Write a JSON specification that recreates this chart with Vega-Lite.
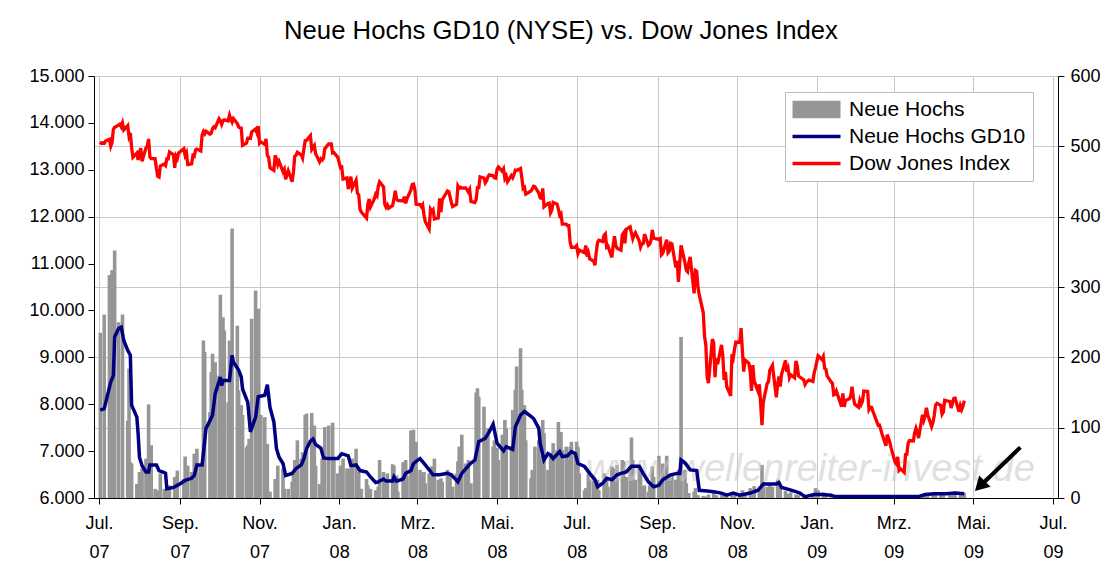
{
"$schema": "https://vega.github.io/schema/vega-lite/v6.json",
"width": 964, "height": 422,
"autosize": {"type": "none"},
"padding": {"left": 94, "top": 76, "right": 55, "bottom": 83},
"background": "white",
"title": {"text": "Neue Hochs GD10 (NYSE) vs. Dow Jones Index", "fontSize": 25.7, "font": "Liberation Sans", "fontWeight": "normal", "color": "black", "anchor": "middle", "offset": 22, "dx": -15},
"config": {"view": {"stroke": "#808080", "strokeWidth": 1}, "font": "Liberation Sans",
 "axis": {"labelFont": "Liberation Sans", "labelFontSize": 18, "labelColor": "black", "domainColor": "black", "tickColor": "black", "gridColor": "#c8c8c8", "title": null}},
"datasets": {
"hochs": [
{"d":"2007-07-02","h":235},{"d":"2007-07-05","h":261},{"d":"2007-07-09","h":317},{"d":"2007-07-11","h":324},{"d":"2007-07-13","h":352},{"d":"2007-07-16","h":250},{"d":"2007-07-19","h":261},{"d":"2007-07-23","h":110},{"d":"2007-07-24","h":184},{"d":"2007-07-25","h":51},{"d":"2007-07-26","h":49},{"d":"2007-07-30","h":20},{"d":"2007-08-01","h":37},{"d":"2007-08-03","h":42},{"d":"2007-08-06","h":56},{"d":"2007-08-08","h":133},{"d":"2007-08-10","h":75},{"d":"2007-08-13","h":13},{"d":"2007-08-15","h":11},{"d":"2007-08-17","h":35},{"d":"2007-08-20","h":13},{"d":"2007-08-22","h":10},{"d":"2007-08-24","h":18},{"d":"2007-08-28","h":30},{"d":"2007-08-30","h":39},{"d":"2007-09-04","h":27},{"d":"2007-09-05","h":59},{"d":"2007-09-07","h":46},{"d":"2007-09-10","h":37},{"d":"2007-09-12","h":63},{"d":"2007-09-14","h":70},{"d":"2007-09-17","h":46},{"d":"2007-09-19","h":224},{"d":"2007-09-20","h":208},{"d":"2007-09-24","h":122},{"d":"2007-09-25","h":179},{"d":"2007-09-26","h":205},{"d":"2007-09-28","h":193},{"d":"2007-10-01","h":174},{"d":"2007-10-02","h":289},{"d":"2007-10-04","h":257},{"d":"2007-10-05","h":238},{"d":"2007-10-08","h":136},{"d":"2007-10-09","h":224},{"d":"2007-10-11","h":383},{"d":"2007-10-15","h":245},{"d":"2007-10-16","h":153},{"d":"2007-10-18","h":132},{"d":"2007-10-19","h":118},{"d":"2007-10-22","h":72},{"d":"2007-10-23","h":75},{"d":"2007-10-24","h":84},{"d":"2007-10-26","h":255},{"d":"2007-10-29","h":295},{"d":"2007-10-31","h":269},
{"d":"2007-11-02","h":118},{"d":"2007-11-05","h":115},{"d":"2007-11-07","h":77},{"d":"2007-11-09","h":9},{"d":"2007-11-13","h":27},{"d":"2007-11-15","h":46},{"d":"2007-11-19","h":42},{"d":"2007-11-20","h":13},{"d":"2007-11-23","h":13},{"d":"2007-11-26","h":23},{"d":"2007-11-27","h":37},{"d":"2007-11-28","h":54},{"d":"2007-11-30","h":82},{"d":"2007-12-03","h":56},{"d":"2007-12-04","h":65},{"d":"2007-12-06","h":118},{"d":"2007-12-07","h":120},{"d":"2007-12-11","h":121},{"d":"2007-12-13","h":103},{"d":"2007-12-14","h":46},{"d":"2007-12-17","h":20},{"d":"2007-12-19","h":56},{"d":"2007-12-21","h":101},{"d":"2007-12-24","h":103},{"d":"2007-12-27","h":107},{"d":"2007-12-28","h":56},{"d":"2007-12-31","h":35},
{"d":"2008-01-02","h":46},{"d":"2008-01-04","h":56},{"d":"2008-01-07","h":42},{"d":"2008-01-09","h":42},{"d":"2008-01-11","h":56},{"d":"2008-01-14","h":70},{"d":"2008-01-16","h":37},{"d":"2008-01-18","h":13},{"d":"2008-01-22","h":27},{"d":"2008-01-23","h":18},{"d":"2008-01-25","h":13},{"d":"2008-01-29","h":11},{"d":"2008-01-31","h":16},{"d":"2008-02-01","h":54},{"d":"2008-02-04","h":37},{"d":"2008-02-06","h":27},{"d":"2008-02-07","h":35},{"d":"2008-02-11","h":48},{"d":"2008-02-12","h":46},{"d":"2008-02-14","h":32},{"d":"2008-02-15","h":9},{"d":"2008-02-19","h":51},{"d":"2008-02-21","h":54},{"d":"2008-02-22","h":32},{"d":"2008-02-25","h":96},{"d":"2008-02-27","h":97},{"d":"2008-02-29","h":80},
{"d":"2008-03-03","h":40},{"d":"2008-03-04","h":35},{"d":"2008-03-06","h":37},{"d":"2008-03-07","h":21},{"d":"2008-03-10","h":35},{"d":"2008-03-12","h":45},{"d":"2008-03-14","h":56},{"d":"2008-03-17","h":26},{"d":"2008-03-19","h":28},{"d":"2008-03-20","h":23},{"d":"2008-03-24","h":40},{"d":"2008-03-26","h":33},{"d":"2008-03-28","h":16},{"d":"2008-03-31","h":35},{"d":"2008-04-01","h":52},{"d":"2008-04-02","h":73},{"d":"2008-04-04","h":90},{"d":"2008-04-07","h":49},{"d":"2008-04-09","h":54},{"d":"2008-04-11","h":21},{"d":"2008-04-14","h":54},{"d":"2008-04-15","h":150},{"d":"2008-04-16","h":156},{"d":"2008-04-17","h":144},{"d":"2008-04-21","h":130},{"d":"2008-04-22","h":87},{"d":"2008-04-24","h":99},{"d":"2008-04-28","h":73},{"d":"2008-04-29","h":82},
{"d":"2008-05-01","h":71},{"d":"2008-05-02","h":54},{"d":"2008-05-05","h":90},{"d":"2008-05-07","h":111},{"d":"2008-05-08","h":99},{"d":"2008-05-12","h":73},{"d":"2008-05-13","h":125},{"d":"2008-05-15","h":154},{"d":"2008-05-16","h":187},{"d":"2008-05-19","h":213},{"d":"2008-05-20","h":154},{"d":"2008-05-22","h":132},{"d":"2008-05-23","h":82},{"d":"2008-05-27","h":28},{"d":"2008-05-28","h":40},{"d":"2008-05-30","h":73},{"d":"2008-06-02","h":82},{"d":"2008-06-03","h":59},{"d":"2008-06-05","h":111},{"d":"2008-06-06","h":92},{"d":"2008-06-09","h":40},{"d":"2008-06-11","h":64},{"d":"2008-06-13","h":78},{"d":"2008-06-16","h":68},{"d":"2008-06-17","h":108},{"d":"2008-06-19","h":94},{"d":"2008-06-20","h":68},{"d":"2008-06-23","h":73},{"d":"2008-06-25","h":54},{"d":"2008-06-26","h":73},{"d":"2008-06-27","h":80},{"d":"2008-06-30","h":64},
{"d":"2008-07-01","h":80},{"d":"2008-07-02","h":73},{"d":"2008-07-03","h":35},{"d":"2008-07-07","h":11},{"d":"2008-07-08","h":14},{"d":"2008-07-10","h":35},{"d":"2008-07-11","h":26},{"d":"2008-07-14","h":30},{"d":"2008-07-15","h":18},{"d":"2008-07-17","h":26},{"d":"2008-07-18","h":11},{"d":"2008-07-22","h":35},{"d":"2008-07-24","h":26},{"d":"2008-07-25","h":16},{"d":"2008-07-28","h":45},{"d":"2008-07-29","h":42},{"d":"2008-07-31","h":23},{"d":"2008-08-01","h":47},{"d":"2008-08-05","h":54},{"d":"2008-08-06","h":52},{"d":"2008-08-08","h":30},{"d":"2008-08-11","h":45},{"d":"2008-08-12","h":86},{"d":"2008-08-13","h":54},{"d":"2008-08-15","h":26},{"d":"2008-08-18","h":45},{"d":"2008-08-19","h":35},{"d":"2008-08-20","h":16},{"d":"2008-08-22","h":18},{"d":"2008-08-25","h":9},{"d":"2008-08-26","h":18},{"d":"2008-08-28","h":45},{"d":"2008-08-29","h":30},{"d":"2008-09-02","h":60},{"d":"2008-09-03","h":30},{"d":"2008-09-05","h":49},{"d":"2008-09-08","h":60},{"d":"2008-09-10","h":30},{"d":"2008-09-12","h":35},{"d":"2008-09-15","h":26},{"d":"2008-09-17","h":40},{"d":"2008-09-19","h":229},{"d":"2008-09-22","h":40},{"d":"2008-09-23","h":21},{"d":"2008-09-25","h":7},{"d":"2008-09-29","h":9},{"d":"2008-09-30","h":14},
{"d":"2008-10-02","h":4},{"d":"2008-10-06","h":3},{"d":"2008-10-08","h":2},{"d":"2008-10-10","h":5},{"d":"2008-10-14","h":8},{"d":"2008-10-16","h":4},{"d":"2008-10-20","h":6},{"d":"2008-10-22","h":3},{"d":"2008-10-24","h":2},{"d":"2008-10-28","h":5},{"d":"2008-10-30","h":8},{"d":"2008-11-03","h":6},{"d":"2008-11-05","h":11},{"d":"2008-11-07","h":5},{"d":"2008-11-11","h":14},{"d":"2008-11-13","h":8},{"d":"2008-11-14","h":17},{"d":"2008-11-18","h":16},{"d":"2008-11-20","h":47},{"d":"2008-11-21","h":23},{"d":"2008-11-24","h":16},{"d":"2008-11-26","h":21},{"d":"2008-11-28","h":16},{"d":"2008-12-02","h":26},{"d":"2008-12-04","h":16},{"d":"2008-12-08","h":10},{"d":"2008-12-10","h":6},{"d":"2008-12-12","h":8},{"d":"2008-12-16","h":5},{"d":"2008-12-18","h":4},{"d":"2008-12-22","h":2},{"d":"2008-12-24","h":3},{"d":"2008-12-29","h":5},{"d":"2008-12-31","h":14},
{"d":"2009-01-02","h":11},{"d":"2009-01-06","h":8},{"d":"2009-01-08","h":4},{"d":"2009-01-12","h":3},{"d":"2009-01-14","h":2},{"d":"2009-01-16","h":2},{"d":"2009-01-21","h":3},{"d":"2009-01-23","h":2},{"d":"2009-01-27","h":3},{"d":"2009-01-29","h":2},{"d":"2009-02-02","h":2},{"d":"2009-02-04","h":3},{"d":"2009-02-06","h":4},{"d":"2009-02-10","h":2},{"d":"2009-02-12","h":2},{"d":"2009-02-17","h":1},{"d":"2009-02-19","h":2},{"d":"2009-02-23","h":1},{"d":"2009-02-25","h":2},{"d":"2009-02-27","h":1},{"d":"2009-03-03","h":1},{"d":"2009-03-05","h":1},{"d":"2009-03-09","h":1},{"d":"2009-03-11","h":2},{"d":"2009-03-13","h":3},{"d":"2009-03-17","h":2},{"d":"2009-03-19","h":3},{"d":"2009-03-23","h":4},{"d":"2009-03-25","h":5},{"d":"2009-03-27","h":6},{"d":"2009-03-31","h":5},{"d":"2009-04-02","h":8},{"d":"2009-04-06","h":6},{"d":"2009-04-08","h":5},{"d":"2009-04-13","h":7},{"d":"2009-04-15","h":6},{"d":"2009-04-17","h":9},{"d":"2009-04-21","h":5},{"d":"2009-04-23","h":6},{"d":"2009-04-24","h":7}
],
"gd10": [
{"d":"2007-07-02","h":125},{"d":"2007-07-05","h":127},{"d":"2007-07-10","h":165},{"d":"2007-07-12","h":174},{"d":"2007-07-13","h":229},{"d":"2007-07-16","h":241},{"d":"2007-07-18","h":243},{"d":"2007-07-20","h":224},{"d":"2007-07-23","h":210},{"d":"2007-07-25","h":203},{"d":"2007-07-26","h":132},{"d":"2007-07-30","h":115},{"d":"2007-07-31","h":91},{"d":"2007-08-01","h":58},{"d":"2007-08-03","h":46},{"d":"2007-08-06","h":37},{"d":"2007-08-08","h":37},{"d":"2007-08-09","h":47},{"d":"2007-08-14","h":47},{"d":"2007-08-16","h":39},{"d":"2007-08-20","h":36},{"d":"2007-08-21","h":35},{"d":"2007-08-22","h":13},{"d":"2007-08-27","h":15},{"d":"2007-08-31","h":19},{"d":"2007-09-05","h":25},{"d":"2007-09-10","h":28},{"d":"2007-09-12","h":32},{"d":"2007-09-14","h":47},{"d":"2007-09-18","h":47},{"d":"2007-09-21","h":99},{"d":"2007-09-24","h":110},{"d":"2007-09-26","h":118},{"d":"2007-09-28","h":148},{"d":"2007-10-02","h":172},{"d":"2007-10-03","h":160},{"d":"2007-10-04","h":167},{"d":"2007-10-09","h":167},{"d":"2007-10-11","h":203},{"d":"2007-10-12","h":193},{"d":"2007-10-16","h":182},{"d":"2007-10-18","h":172},{"d":"2007-10-19","h":155},{"d":"2007-10-23","h":136},{"d":"2007-10-25","h":94},{"d":"2007-10-29","h":115},{"d":"2007-10-31","h":144},
{"d":"2007-11-05","h":146},{"d":"2007-11-07","h":161},{"d":"2007-11-09","h":129},{"d":"2007-11-12","h":108},{"d":"2007-11-14","h":70},{"d":"2007-11-16","h":58},{"d":"2007-11-19","h":49},{"d":"2007-11-21","h":32},{"d":"2007-11-26","h":35},{"d":"2007-11-29","h":42},{"d":"2007-12-03","h":47},{"d":"2007-12-05","h":56},{"d":"2007-12-07","h":70},{"d":"2007-12-10","h":81},{"d":"2007-12-12","h":84},{"d":"2007-12-14","h":76},{"d":"2007-12-18","h":71},{"d":"2007-12-20","h":57},{"d":"2007-12-24","h":56},{"d":"2007-12-31","h":56},{"d":"2008-01-03","h":63},{"d":"2008-01-08","h":60},{"d":"2008-01-10","h":46},{"d":"2008-01-14","h":47},{"d":"2008-01-17","h":39},{"d":"2008-01-22","h":37},{"d":"2008-01-25","h":30},{"d":"2008-01-29","h":22},{"d":"2008-01-31","h":23},{"d":"2008-02-04","h":27},{"d":"2008-02-06","h":24},{"d":"2008-02-11","h":24},{"d":"2008-02-12","h":30},{"d":"2008-02-14","h":24},{"d":"2008-02-19","h":27},{"d":"2008-02-21","h":35},{"d":"2008-02-25","h":39},{"d":"2008-02-27","h":49},{"d":"2008-02-29","h":52},
{"d":"2008-03-03","h":56},{"d":"2008-03-07","h":47},{"d":"2008-03-13","h":33},{"d":"2008-03-18","h":33},{"d":"2008-03-24","h":35},{"d":"2008-03-27","h":33},{"d":"2008-04-01","h":23},{"d":"2008-04-04","h":35},{"d":"2008-04-10","h":48},{"d":"2008-04-14","h":54},{"d":"2008-04-17","h":80},{"d":"2008-04-22","h":85},{"d":"2008-04-25","h":94},{"d":"2008-04-28","h":105},{"d":"2008-05-01","h":78},{"d":"2008-05-06","h":67},{"d":"2008-05-08","h":73},{"d":"2008-05-13","h":69},{"d":"2008-05-15","h":101},{"d":"2008-05-19","h":118},{"d":"2008-05-22","h":123},{"d":"2008-05-27","h":116},{"d":"2008-05-29","h":113},{"d":"2008-06-02","h":99},{"d":"2008-06-03","h":78},{"d":"2008-06-06","h":54},{"d":"2008-06-09","h":63},{"d":"2008-06-11","h":61},{"d":"2008-06-13","h":56},{"d":"2008-06-18","h":66},{"d":"2008-06-20","h":59},{"d":"2008-06-24","h":60},{"d":"2008-06-27","h":66},{"d":"2008-06-30","h":63},
{"d":"2008-07-02","h":49},{"d":"2008-07-07","h":45},{"d":"2008-07-09","h":40},{"d":"2008-07-11","h":35},{"d":"2008-07-15","h":26},{"d":"2008-07-17","h":16},{"d":"2008-07-21","h":21},{"d":"2008-07-24","h":28},{"d":"2008-07-28","h":26},{"d":"2008-08-01","h":33},{"d":"2008-08-04","h":35},{"d":"2008-08-08","h":37},{"d":"2008-08-12","h":45},{"d":"2008-08-15","h":45},{"d":"2008-08-18","h":45},{"d":"2008-08-21","h":35},{"d":"2008-08-25","h":23},{"d":"2008-08-29","h":16},{"d":"2008-09-02","h":18},{"d":"2008-09-05","h":26},{"d":"2008-09-11","h":33},{"d":"2008-09-16","h":35},{"d":"2008-09-18","h":35},{"d":"2008-09-19","h":54},{"d":"2008-09-22","h":50},{"d":"2008-09-26","h":40},{"d":"2008-10-01","h":39},{"d":"2008-10-03","h":11},{"d":"2008-10-09","h":10},{"d":"2008-10-14","h":9},{"d":"2008-10-20","h":7},{"d":"2008-10-24","h":4},{"d":"2008-10-29","h":7},
{"d":"2008-11-03","h":4},{"d":"2008-11-11","h":7},{"d":"2008-11-17","h":11},{"d":"2008-11-21","h":20},{"d":"2008-11-26","h":20},{"d":"2008-12-01","h":20},{"d":"2008-12-03","h":22},{"d":"2008-12-05","h":15},{"d":"2008-12-11","h":12},{"d":"2008-12-16","h":9},{"d":"2008-12-19","h":7},{"d":"2008-12-23","h":2},{"d":"2008-12-30","h":5},{"d":"2009-01-05","h":5},{"d":"2009-01-12","h":4},{"d":"2009-01-15","h":2},{"d":"2009-02-10","h":2},{"d":"2009-03-10","h":2},{"d":"2009-03-20","h":2},{"d":"2009-03-25","h":5},{"d":"2009-04-01","h":6},{"d":"2009-04-10","h":6},{"d":"2009-04-17","h":7},{"d":"2009-04-24","h":6}
],
"dow": [
{"d":"2007-07-02","v":13535},{"d":"2007-07-03","v":13577},{"d":"2007-07-05","v":13565},{"d":"2007-07-06","v":13611},{"d":"2007-07-09","v":13650},{"d":"2007-07-10","v":13502},{"d":"2007-07-11","v":13577},{"d":"2007-07-12","v":13861},{"d":"2007-07-13","v":13907},{"d":"2007-07-16","v":13951},{"d":"2007-07-17","v":13971},{"d":"2007-07-18","v":13918},{"d":"2007-07-19","v":14000},{"d":"2007-07-20","v":13851},{"d":"2007-07-23","v":13943},{"d":"2007-07-24","v":13716},{"d":"2007-07-25","v":13785},{"d":"2007-07-26","v":13473},{"d":"2007-07-27","v":13265},{"d":"2007-07-30","v":13358},{"d":"2007-07-31","v":13212},
{"d":"2007-08-01","v":13362},{"d":"2007-08-02","v":13463},{"d":"2007-08-03","v":13182},{"d":"2007-08-06","v":13469},{"d":"2007-08-07","v":13504},{"d":"2007-08-08","v":13658},{"d":"2007-08-09","v":13271},{"d":"2007-08-10","v":13240},{"d":"2007-08-13","v":13237},{"d":"2007-08-14","v":13029},{"d":"2007-08-15","v":12862},{"d":"2007-08-16","v":12845},{"d":"2007-08-17","v":13079},{"d":"2007-08-20","v":13121},{"d":"2007-08-21","v":13091},{"d":"2007-08-22","v":13237},{"d":"2007-08-23","v":13236},{"d":"2007-08-24","v":13379},{"d":"2007-08-27","v":13322},{"d":"2007-08-28","v":13041},{"d":"2007-08-29","v":13289},{"d":"2007-08-30","v":13238},{"d":"2007-08-31","v":13358},
{"d":"2007-09-04","v":13448},{"d":"2007-09-05","v":13306},{"d":"2007-09-06","v":13363},{"d":"2007-09-07","v":13113},{"d":"2007-09-10","v":13128},{"d":"2007-09-11","v":13308},{"d":"2007-09-12","v":13292},{"d":"2007-09-13","v":13425},{"d":"2007-09-14","v":13442},{"d":"2007-09-17","v":13403},{"d":"2007-09-18","v":13739},{"d":"2007-09-19","v":13815},{"d":"2007-09-20","v":13766},{"d":"2007-09-21","v":13821},{"d":"2007-09-24","v":13759},{"d":"2007-09-25","v":13779},{"d":"2007-09-26","v":13878},{"d":"2007-09-27","v":13913},{"d":"2007-09-28","v":13896},
{"d":"2007-10-01","v":14088},{"d":"2007-10-02","v":14047},{"d":"2007-10-03","v":13968},{"d":"2007-10-04","v":14044},{"d":"2007-10-05","v":14066},{"d":"2007-10-08","v":14043},{"d":"2007-10-09","v":14165},{"d":"2007-10-10","v":14078},{"d":"2007-10-11","v":14015},{"d":"2007-10-12","v":14093},{"d":"2007-10-15","v":13985},{"d":"2007-10-16","v":13913},{"d":"2007-10-17","v":13892},{"d":"2007-10-18","v":13889},{"d":"2007-10-19","v":13522},{"d":"2007-10-22","v":13566},{"d":"2007-10-23","v":13676},{"d":"2007-10-24","v":13675},{"d":"2007-10-25","v":13671},{"d":"2007-10-26","v":13807},{"d":"2007-10-29","v":13870},{"d":"2007-10-30","v":13792},{"d":"2007-10-31","v":13930},
{"d":"2007-11-01","v":13567},{"d":"2007-11-02","v":13596},{"d":"2007-11-05","v":13543},{"d":"2007-11-06","v":13661},{"d":"2007-11-07","v":13300},{"d":"2007-11-08","v":13267},{"d":"2007-11-09","v":13043},{"d":"2007-11-12","v":12988},{"d":"2007-11-13","v":13307},{"d":"2007-11-14","v":13231},{"d":"2007-11-15","v":13110},{"d":"2007-11-16","v":13177},{"d":"2007-11-19","v":12958},{"d":"2007-11-20","v":13010},{"d":"2007-11-21","v":12799},{"d":"2007-11-23","v":12981},{"d":"2007-11-26","v":12743},{"d":"2007-11-27","v":12958},{"d":"2007-11-28","v":13289},{"d":"2007-11-29","v":13312},{"d":"2007-11-30","v":13372},
{"d":"2007-12-03","v":13315},{"d":"2007-12-04","v":13249},{"d":"2007-12-05","v":13445},{"d":"2007-12-06","v":13620},{"d":"2007-12-07","v":13626},{"d":"2007-12-10","v":13727},{"d":"2007-12-11","v":13433},{"d":"2007-12-12","v":13474},{"d":"2007-12-13","v":13518},{"d":"2007-12-14","v":13340},{"d":"2007-12-17","v":13168},{"d":"2007-12-18","v":13233},{"d":"2007-12-19","v":13207},{"d":"2007-12-20","v":13246},{"d":"2007-12-21","v":13451},{"d":"2007-12-24","v":13550},{"d":"2007-12-26","v":13552},{"d":"2007-12-27","v":13360},{"d":"2007-12-28","v":13366},{"d":"2007-12-31","v":13265},
{"d":"2008-01-02","v":13044},{"d":"2008-01-03","v":13057},{"d":"2008-01-04","v":12800},{"d":"2008-01-07","v":12827},{"d":"2008-01-08","v":12589},{"d":"2008-01-09","v":12736},{"d":"2008-01-10","v":12853},{"d":"2008-01-11","v":12606},{"d":"2008-01-14","v":12778},{"d":"2008-01-15","v":12501},{"d":"2008-01-16","v":12466},{"d":"2008-01-17","v":12159},{"d":"2008-01-18","v":12099},{"d":"2008-01-22","v":11971},{"d":"2008-01-23","v":12270},{"d":"2008-01-24","v":12379},{"d":"2008-01-25","v":12207},{"d":"2008-01-28","v":12384},{"d":"2008-01-29","v":12480},{"d":"2008-01-30","v":12443},{"d":"2008-01-31","v":12650},
{"d":"2008-02-01","v":12743},{"d":"2008-02-04","v":12635},{"d":"2008-02-05","v":12265},{"d":"2008-02-06","v":12200},{"d":"2008-02-07","v":12248},{"d":"2008-02-08","v":12182},{"d":"2008-02-11","v":12240},{"d":"2008-02-12","v":12374},{"d":"2008-02-13","v":12552},{"d":"2008-02-14","v":12376},{"d":"2008-02-15","v":12348},{"d":"2008-02-19","v":12337},{"d":"2008-02-20","v":12427},{"d":"2008-02-21","v":12284},{"d":"2008-02-22","v":12381},{"d":"2008-02-25","v":12570},{"d":"2008-02-26","v":12684},{"d":"2008-02-27","v":12694},{"d":"2008-02-28","v":12582},{"d":"2008-02-29","v":12266},
{"d":"2008-03-03","v":12258},{"d":"2008-03-04","v":12213},{"d":"2008-03-05","v":12254},{"d":"2008-03-06","v":12040},{"d":"2008-03-07","v":11894},{"d":"2008-03-10","v":11740},{"d":"2008-03-11","v":12156},{"d":"2008-03-12","v":12111},{"d":"2008-03-13","v":12146},{"d":"2008-03-14","v":11951},{"d":"2008-03-17","v":11972},{"d":"2008-03-18","v":12392},{"d":"2008-03-19","v":12099},{"d":"2008-03-20","v":12361},{"d":"2008-03-24","v":12549},{"d":"2008-03-25","v":12533},{"d":"2008-03-26","v":12422},{"d":"2008-03-27","v":12302},{"d":"2008-03-28","v":12216},{"d":"2008-03-31","v":12263},
{"d":"2008-04-01","v":12654},{"d":"2008-04-02","v":12605},{"d":"2008-04-03","v":12626},{"d":"2008-04-04","v":12610},{"d":"2008-04-07","v":12612},{"d":"2008-04-08","v":12577},{"d":"2008-04-09","v":12527},{"d":"2008-04-10","v":12582},{"d":"2008-04-11","v":12326},{"d":"2008-04-14","v":12302},{"d":"2008-04-15","v":12363},{"d":"2008-04-16","v":12620},{"d":"2008-04-17","v":12620},{"d":"2008-04-18","v":12849},{"d":"2008-04-21","v":12825},{"d":"2008-04-22","v":12721},{"d":"2008-04-23","v":12763},{"d":"2008-04-24","v":12849},{"d":"2008-04-25","v":12892},{"d":"2008-04-28","v":12871},{"d":"2008-04-29","v":12832},{"d":"2008-04-30","v":12820},
{"d":"2008-05-01","v":13010},{"d":"2008-05-02","v":13058},{"d":"2008-05-05","v":12969},{"d":"2008-05-06","v":13020},{"d":"2008-05-07","v":12814},{"d":"2008-05-08","v":12866},{"d":"2008-05-09","v":12745},{"d":"2008-05-12","v":12876},{"d":"2008-05-13","v":12832},{"d":"2008-05-14","v":12898},{"d":"2008-05-15","v":12992},{"d":"2008-05-16","v":12986},{"d":"2008-05-19","v":13028},{"d":"2008-05-20","v":12828},{"d":"2008-05-21","v":12601},{"d":"2008-05-22","v":12625},{"d":"2008-05-23","v":12479},{"d":"2008-05-27","v":12548},{"d":"2008-05-28","v":12594},{"d":"2008-05-29","v":12647},{"d":"2008-05-30","v":12638},
{"d":"2008-06-02","v":12503},{"d":"2008-06-03","v":12402},{"d":"2008-06-04","v":12391},{"d":"2008-06-05","v":12604},{"d":"2008-06-06","v":12209},{"d":"2008-06-09","v":12280},{"d":"2008-06-10","v":12289},{"d":"2008-06-11","v":12083},{"d":"2008-06-12","v":12141},{"d":"2008-06-13","v":12307},{"d":"2008-06-16","v":12269},{"d":"2008-06-17","v":12160},{"d":"2008-06-18","v":12029},{"d":"2008-06-19","v":12063},{"d":"2008-06-20","v":11843},{"d":"2008-06-23","v":11842},{"d":"2008-06-24","v":11807},{"d":"2008-06-25","v":11811},{"d":"2008-06-26","v":11453},{"d":"2008-06-27","v":11346},{"d":"2008-06-30","v":11350},
{"d":"2008-07-01","v":11382},{"d":"2008-07-02","v":11215},{"d":"2008-07-03","v":11288},{"d":"2008-07-07","v":11231},{"d":"2008-07-08","v":11384},{"d":"2008-07-09","v":11147},{"d":"2008-07-10","v":11229},{"d":"2008-07-11","v":11100},{"d":"2008-07-14","v":11055},{"d":"2008-07-15","v":10962},{"d":"2008-07-16","v":11239},{"d":"2008-07-17","v":11446},{"d":"2008-07-18","v":11496},{"d":"2008-07-21","v":11467},{"d":"2008-07-22","v":11602},{"d":"2008-07-23","v":11632},{"d":"2008-07-24","v":11349},{"d":"2008-07-25","v":11370},{"d":"2008-07-28","v":11131},{"d":"2008-07-29","v":11397},{"d":"2008-07-30","v":11583},{"d":"2008-07-31","v":11378},
{"d":"2008-08-01","v":11326},{"d":"2008-08-04","v":11284},{"d":"2008-08-05","v":11615},{"d":"2008-08-06","v":11656},{"d":"2008-08-07","v":11431},{"d":"2008-08-08","v":11734},{"d":"2008-08-11","v":11782},{"d":"2008-08-12","v":11642},{"d":"2008-08-13","v":11532},{"d":"2008-08-14","v":11615},{"d":"2008-08-15","v":11659},{"d":"2008-08-18","v":11479},{"d":"2008-08-19","v":11348},{"d":"2008-08-20","v":11417},{"d":"2008-08-21","v":11430},{"d":"2008-08-22","v":11628},{"d":"2008-08-25","v":11387},{"d":"2008-08-26","v":11413},{"d":"2008-08-27","v":11503},{"d":"2008-08-28","v":11715},{"d":"2008-08-29","v":11543},
{"d":"2008-09-02","v":11516},{"d":"2008-09-03","v":11533},{"d":"2008-09-04","v":11188},{"d":"2008-09-05","v":11220},{"d":"2008-09-08","v":11511},{"d":"2008-09-09","v":11231},{"d":"2008-09-10","v":11268},{"d":"2008-09-11","v":11434},{"d":"2008-09-12","v":11421},{"d":"2008-09-15","v":10918},{"d":"2008-09-16","v":11060},{"d":"2008-09-17","v":10609},{"d":"2008-09-18","v":11020},{"d":"2008-09-19","v":11388},{"d":"2008-09-22","v":11016},{"d":"2008-09-23","v":10855},{"d":"2008-09-24","v":10825},{"d":"2008-09-25","v":11023},{"d":"2008-09-26","v":11143},{"d":"2008-09-29","v":10365},{"d":"2008-09-30","v":10851},
{"d":"2008-10-01","v":10831},{"d":"2008-10-02","v":10483},{"d":"2008-10-03","v":10325},{"d":"2008-10-06","v":9955},{"d":"2008-10-07","v":9447},{"d":"2008-10-08","v":9258},{"d":"2008-10-09","v":8579},{"d":"2008-10-10","v":8451},{"d":"2008-10-13","v":9387},{"d":"2008-10-14","v":9311},{"d":"2008-10-15","v":8578},{"d":"2008-10-16","v":8979},{"d":"2008-10-17","v":8852},{"d":"2008-10-20","v":9265},{"d":"2008-10-21","v":9034},{"d":"2008-10-22","v":8519},{"d":"2008-10-23","v":8691},{"d":"2008-10-24","v":8378},{"d":"2008-10-27","v":8176},{"d":"2008-10-28","v":9065},{"d":"2008-10-29","v":8991},{"d":"2008-10-30","v":9180},{"d":"2008-10-31","v":9325},
{"d":"2008-11-03","v":9319},{"d":"2008-11-04","v":9625},{"d":"2008-11-05","v":9139},{"d":"2008-11-06","v":8696},{"d":"2008-11-07","v":8944},{"d":"2008-11-10","v":8871},{"d":"2008-11-11","v":8694},{"d":"2008-11-12","v":8283},{"d":"2008-11-13","v":8835},{"d":"2008-11-14","v":8497},{"d":"2008-11-17","v":8273},{"d":"2008-11-18","v":8425},{"d":"2008-11-19","v":8000},{"d":"2008-11-20","v":7552},{"d":"2008-11-21","v":8046},{"d":"2008-11-24","v":8443},{"d":"2008-11-25","v":8480},{"d":"2008-11-26","v":8727},{"d":"2008-11-28","v":8829},
{"d":"2008-12-01","v":8149},{"d":"2008-12-02","v":8419},{"d":"2008-12-03","v":8592},{"d":"2008-12-04","v":8377},{"d":"2008-12-05","v":8635},{"d":"2008-12-08","v":8934},{"d":"2008-12-09","v":8692},{"d":"2008-12-10","v":8761},{"d":"2008-12-11","v":8565},{"d":"2008-12-12","v":8629},{"d":"2008-12-15","v":8565},{"d":"2008-12-16","v":8924},{"d":"2008-12-17","v":8824},{"d":"2008-12-18","v":8604},{"d":"2008-12-19","v":8579},{"d":"2008-12-22","v":8520},{"d":"2008-12-23","v":8419},{"d":"2008-12-24","v":8468},{"d":"2008-12-26","v":8515},{"d":"2008-12-29","v":8483},{"d":"2008-12-30","v":8668},{"d":"2008-12-31","v":8776},
{"d":"2009-01-02","v":9034},{"d":"2009-01-05","v":8952},{"d":"2009-01-06","v":9015},{"d":"2009-01-07","v":8769},{"d":"2009-01-08","v":8742},{"d":"2009-01-09","v":8599},{"d":"2009-01-12","v":8474},{"d":"2009-01-13","v":8448},{"d":"2009-01-14","v":8200},{"d":"2009-01-15","v":8212},{"d":"2009-01-16","v":8281},{"d":"2009-01-20","v":7949},{"d":"2009-01-21","v":8228},{"d":"2009-01-22","v":7945},{"d":"2009-01-23","v":8077},{"d":"2009-01-26","v":8116},{"d":"2009-01-27","v":8175},{"d":"2009-01-28","v":8375},{"d":"2009-01-29","v":8149},{"d":"2009-01-30","v":8001},
{"d":"2009-02-02","v":7936},{"d":"2009-02-03","v":8078},{"d":"2009-02-04","v":8000},{"d":"2009-02-05","v":8063},{"d":"2009-02-06","v":8280},{"d":"2009-02-09","v":8270},{"d":"2009-02-10","v":7889},{"d":"2009-02-11","v":7939},{"d":"2009-02-12","v":7933},{"d":"2009-02-13","v":7850},{"d":"2009-02-17","v":7553},{"d":"2009-02-18","v":7556},{"d":"2009-02-19","v":7466},{"d":"2009-02-20","v":7366},{"d":"2009-02-23","v":7115},{"d":"2009-02-24","v":7351},{"d":"2009-02-25","v":7271},{"d":"2009-02-26","v":7183},{"d":"2009-02-27","v":7063},
{"d":"2009-03-02","v":6763},{"d":"2009-03-03","v":6726},{"d":"2009-03-04","v":6876},{"d":"2009-03-05","v":6594},{"d":"2009-03-06","v":6627},{"d":"2009-03-09","v":6547},{"d":"2009-03-10","v":6926},{"d":"2009-03-11","v":6930},{"d":"2009-03-12","v":7170},{"d":"2009-03-13","v":7224},{"d":"2009-03-16","v":7217},{"d":"2009-03-17","v":7395},{"d":"2009-03-18","v":7486},{"d":"2009-03-19","v":7401},{"d":"2009-03-20","v":7278},{"d":"2009-03-23","v":7776},{"d":"2009-03-24","v":7660},{"d":"2009-03-25","v":7750},{"d":"2009-03-26","v":7924},{"d":"2009-03-27","v":7777},{"d":"2009-03-30","v":7522},{"d":"2009-03-31","v":7609},
{"d":"2009-04-01","v":7761},{"d":"2009-04-02","v":7978},{"d":"2009-04-03","v":8018},{"d":"2009-04-06","v":7975},{"d":"2009-04-07","v":7789},{"d":"2009-04-08","v":7837},{"d":"2009-04-09","v":8083},{"d":"2009-04-13","v":8058},{"d":"2009-04-14","v":7920},{"d":"2009-04-15","v":8029},{"d":"2009-04-16","v":8125},{"d":"2009-04-17","v":8131},{"d":"2009-04-20","v":7841},{"d":"2009-04-21","v":7969},{"d":"2009-04-22","v":7886},{"d":"2009-04-23","v":7957},{"d":"2009-04-24","v":8076}
],
"mark": [{"d":"2008-12-27","h":40,"t":"www.wellenreiter-invest.de"}],
"arrow": [{"d":"2009-06-06","h":72,"d2":"2009-05-09","h2":22}],
"tip": [{"d":"2009-05-06","h":17}]
},
"encoding": {
 "x": {"field": "d", "type": "temporal",
  "scale": {"type": "utc", "domain": [{"year":2007,"month":7,"date":1,"utc":true},{"year":2009,"month":7,"date":1,"utc":true}]},
  "axis": {"values": [{"year":2007,"month":7,"date":1,"utc":true},{"year":2007,"month":9,"date":1,"utc":true},{"year":2007,"month":11,"date":1,"utc":true},{"year":2008,"month":1,"date":1,"utc":true},{"year":2008,"month":3,"date":1,"utc":true},{"year":2008,"month":5,"date":1,"utc":true},{"year":2008,"month":7,"date":1,"utc":true},{"year":2008,"month":9,"date":1,"utc":true},{"year":2008,"month":11,"date":1,"utc":true},{"year":2009,"month":1,"date":1,"utc":true},{"year":2009,"month":3,"date":1,"utc":true},{"year":2009,"month":5,"date":1,"utc":true},{"year":2009,"month":7,"date":1,"utc":true}],
   "labelExpr": "[['Jan.','Feb.','Mrz.','Apr.','Mai.','Jun.','Jul.','Aug.','Sep.','Okt.','Nov.','Dez.'][utcmonth(datum.value)], utcFormat(datum.value, '%y')]",
   "grid": true, "tickSize": 6, "labelPadding": 10, "labelLineHeight": 29, "labelFlush": false, "labelOverlap": false, "labelBaseline": "top"}}
},
"layer": [
 {"layer": [
   {"data": {"name": "hochs"}, "mark": {"type": "bar", "size": 3.6, "color": "#969696"},
    "encoding": {"y": {"field": "h", "type": "quantitative", "scale": {"domain": [0, 600], "nice": false},
       "axis": {"orient": "right", "values": [0,100,200,300,400,500,600], "grid": true, "tickSize": 6, "labelPadding": 6}},
     "color": {"datum": "Neue Hochs", "type": "nominal",
       "scale": {"domain": ["Neue Hochs","Neue Hochs GD10","Dow Jones Index"], "range": ["#969696","#000080","#ff0000"]},
       "legend": {"orient": "none", "legendX": 691, "legendY": 16, "title": null, "fillColor": "white", "strokeColor": "#bdbdbd", "padding": 7,
         "labelFontSize": 21, "labelFont": "Liberation Sans", "labelColor": "black", "labelLimit": 400, "symbolSize": 2304, "symbolType": "stroke", "rowPadding": 5, "labelOffset": 22, "symbolOffset": 14, "symbolStrokeWidth": 3,
         "encode": {"symbols": {"update": {
           "shape": {"signal": "datum.value === 'Neue Hochs' ? 'M-1,-0.36H1V0.36H-1Z' : 'stroke'"},
           "fill": {"signal": "datum.value === 'Neue Hochs' ? '#969696' : 'transparent'"},
           "stroke": {"signal": "datum.value === 'Neue Hochs' ? '#969696' : (datum.value === 'Neue Hochs GD10' ? '#000080' : '#ff0000')"},
           "strokeWidth": {"signal": "datum.value === 'Neue Hochs' ? 0 : 3.5"}}}}}}}},
   {"data": {"name": "mark"}, "mark": {"type": "text", "font": "Liberation Sans", "fontSize": 38, "fontStyle": "italic", "color": "#c8c8c8", "opacity": 0.55, "align": "center", "baseline": "middle"},
    "encoding": {"y": {"field": "h", "type": "quantitative"}, "text": {"field": "t"}}},
   {"data": {"name": "gd10"}, "mark": {"type": "line", "strokeWidth": 3.5},
    "encoding": {"y": {"field": "h", "type": "quantitative"}, "color": {"datum": "Neue Hochs GD10", "type": "nominal"}}},
   {"data": {"name": "arrow"}, "mark": {"type": "rule", "color": "black", "strokeWidth": 4},
    "encoding": {"y": {"field": "h", "type": "quantitative"}, "x2": {"field": "d2"}, "y2": {"field": "h2"}}},
   {"data": {"name": "tip"}, "mark": {"type": "point", "shape": "triangle-up", "angle": 225, "size": 260, "filled": true, "color": "black", "opacity": 1},
    "encoding": {"y": {"field": "h", "type": "quantitative"}}}
 ]},
 {"data": {"name": "dow"}, "mark": {"type": "line", "strokeWidth": 3.3},
  "encoding": {"y": {"field": "v", "type": "quantitative", "scale": {"domain": [6000, 15000], "nice": false},
    "axis": {"orient": "left", "values": [6000,7000,8000,9000,10000,11000,12000,13000,14000,15000], "grid": false, "tickSize": 6, "labelPadding": 4,
      "labelExpr": "replace(format(datum.value, ','), ',', '.')"}},
   "color": {"datum": "Dow Jones Index", "type": "nominal"}}}
],
"resolve": {"scale": {"y": "independent"}, "axis": {"y": "independent"}}
}
